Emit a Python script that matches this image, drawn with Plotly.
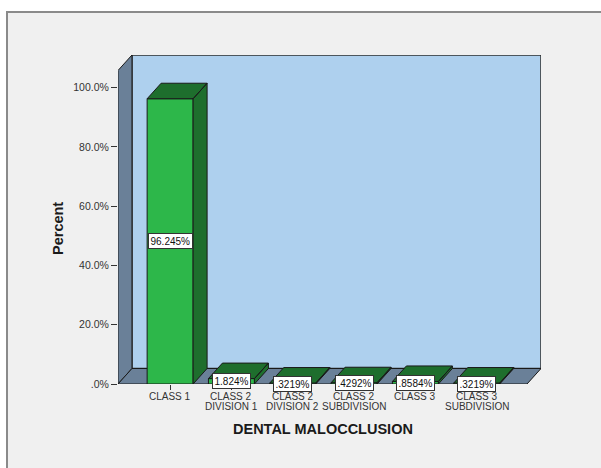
import plotly.graph_objects as go

# ---- data -------------------------------------------------------------
categories = ["CLASS 1", "CLASS 2<br>DIVISION 1", "CLASS 2<br>DIVISION 2",
              "CLASS 2<br>SUBDIVISION", "CLASS 3", "CLASS 3<br>SUBDIVISION"]
percent = [96.245, 1.824, 0.3219, 0.4292, 0.8584, 0.3219]
y_ticks = [0, 20, 40, 60, 80, 100]


def spss_fmt(v, fmt="{:g}"):
    """SPSS-style number text: no leading zero before the decimal point."""
    s = fmt.format(v)
    if s.startswith("0."):
        s = s[1:]
    return s + "%"


value_labels = [spss_fmt(v) for v in percent]
y_tick_labels = [spss_fmt(t, "{:.1f}") for t in y_ticks]

# ---- page / plot geometry --------------------------------------------
W, H = 601, 468
ML, MR, MT, MB = 118, 60, 55, 84
PW, PH = W - ML - MR, H - MT - MB

X_LO, X_FRONT_HI = -0.85, 5.82      # front plane extent in category units
DXU, DYU = 0.228, 5.23              # depth offset of the 3D box (x units, % units)
Y_MAX = 111.0
BAR_W = 0.75

FRONT = "#2DB74A"
DARK = "#1E6E2D"
EDGE = "#1A1A1A"
WALL = "#AED0EE"
SIDE = "#6A8098"
FONT = "Arial, Liberation Sans, sans-serif"
LABEL_GREY = "#333333"


def px_x(p):
    return (p - ML) / PW


def px_y(p):
    return (H - MB - p) / PH


idx = list(range(len(categories)))

fig = go.Figure()

# top and side faces of each bar (dark green), drawn from the values
for i, v in zip(idx, percent):
    x0, x1 = i - BAR_W / 2, i + BAR_W / 2
    xs = [x0, x1, x1 + DXU, x0 + DXU, x0, None,
          x1, x1, x1 + DXU, x1 + DXU, x1]
    ys = [v, v, v + DYU, v + DYU, v, None,
          0, v, v + DYU, DYU, 0]
    fig.add_trace(go.Scatter(x=xs, y=ys, mode="lines", fill="toself",
                             fillcolor=DARK, line=dict(color=EDGE, width=1),
                             hoverinfo="skip", showlegend=False))

# front faces
fig.add_trace(go.Bar(x=idx, y=percent, width=BAR_W,
                     marker=dict(color=FRONT, line=dict(color=EDGE, width=1)),
                     hoverinfo="skip", showlegend=False))

shapes = [
    # outer chart frame
    dict(type="rect", xref="paper", yref="paper",
         x0=px_x(7), x1=px_x(640), y0=px_y(520), y1=px_y(12),
         fillcolor="#F0F0F0", line=dict(color="#8A8A8A", width=2), layer="below"),
    # back wall
    dict(type="rect", xref="x", yref="y",
         x0=X_LO + DXU, x1=X_FRONT_HI + DXU, y0=DYU, y1=Y_MAX,
         fillcolor=WALL, line=dict(color="#2E2E2E", width=1.5), layer="below"),
    # left side wall
    dict(type="path", xref="x", yref="y",
         path=f"M {X_LO},0 L {X_LO},{Y_MAX - DYU} L {X_LO + DXU},{Y_MAX} "
              f"L {X_LO + DXU},{DYU} Z",
         fillcolor=SIDE, line=dict(color=EDGE, width=1), layer="below"),
    # floor
    dict(type="path", xref="x", yref="y",
         path=f"M {X_LO},0 L {X_FRONT_HI},0 L {X_FRONT_HI + DXU},{DYU} "
              f"L {X_LO + DXU},{DYU} Z",
         fillcolor=SIDE, line=dict(color=EDGE, width=1), layer="below"),
]

# value boxes at the middle of each front face
annotations = [
    dict(x=i, y=v / 2, xref="x", yref="y", text=t, showarrow=False,
         xanchor="center", yanchor="middle",
         bgcolor="white", bordercolor=LABEL_GREY, borderwidth=1, borderpad=1.5,
         font=dict(family=FONT, size=10, color="#111111"))
    for i, v, t in zip(idx, percent, value_labels)
]

# category names under the floor, one line at a time for tight line spacing
for i, name in zip(idx, categories):
    for k, line in enumerate(name.split("<br>")):
        annotations.append(
            dict(x=i, y=0, xref="x", yref="y", text=line, showarrow=False,
                 xanchor="center", yanchor="middle", yshift=-(12 + 10.7 * k),
                 font=dict(family=FONT, size=10, color=LABEL_GREY)))

annotations += [
    dict(x=px_x(58), y=px_y(228), xref="paper", yref="paper", text="<b>Percent</b>",
         textangle=-90, showarrow=False, xanchor="center", yanchor="middle",
         font=dict(family=FONT, size=14.5, color="#1A1A1A")),
    dict(x=px_x(323), y=px_y(429), xref="paper", yref="paper",
         text="<b>DENTAL MALOCCLUSION</b>", showarrow=False,
         xanchor="center", yanchor="middle",
         font=dict(family=FONT, size=14.5, color="#1A1A1A")),
]

fig.update_layout(
    width=W, height=H,
    margin=dict(l=ML, r=MR, t=MT, b=MB, pad=0),
    paper_bgcolor="white", plot_bgcolor="rgba(0,0,0,0)",
    shapes=shapes, annotations=annotations,
    showlegend=False, barmode="overlay",
    xaxis=dict(range=[X_LO, X_FRONT_HI + DXU], tickvals=idx,
               showticklabels=False,
               ticks="outside", ticklen=5, tickcolor=LABEL_GREY, tickwidth=1,
               showgrid=False, zeroline=False, showline=False),
    yaxis=dict(range=[0, Y_MAX], tickvals=y_ticks, ticktext=y_tick_labels,
               ticks="outside", ticklen=6, tickcolor=LABEL_GREY, tickwidth=1,
               showgrid=False, zeroline=False, showline=False,
               tickfont=dict(family=FONT, size=10.5, color=LABEL_GREY)),
)

fig.write_html("out.html")
